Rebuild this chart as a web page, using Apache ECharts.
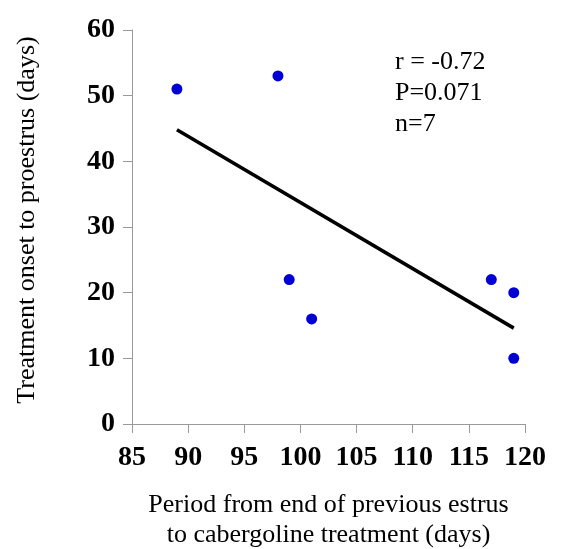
<!DOCTYPE html>
<html>
<head>
    <meta charset="utf-8">
    <title>Treatment onset vs period</title>
    <script src="https://cdn.jsdelivr.net/npm/echarts@6/dist/echarts.min.js"></script>
</head>
<body style="margin:0">
<div id="main" style="width: 565px;height:549px;"></div>
<script type="text/javascript">
    // data
    var periodDays = [89, 98, 99, 101, 117, 119, 119];
    var onsetDays = [51, 53, 22, 16, 22, 20, 10];
    // fitted line, end points
    var fitX = [89, 119];
    var fitY = [44.8, 14.6];
    var statsText = ['r = -0.72', 'P=0.071', 'n=7'];

    var serif = "'Liberation Serif', 'Times New Roman', serif";

    var points = periodDays.map(function (x, i) { return [x, onsetDays[i]]; });
    var fit = fitX.map(function (x, i) { return [x, fitY[i]]; });

    var chart = echarts.init(document.getElementById('main'));
    var option = {
        animation: false,
        grid: { left: 132, top: 30, right: 40, bottom: 125, outerBoundsMode: 'none' },
        xAxis: {
            type: 'value',
            min: 85, max: 120, interval: 5,
            name: 'Period from end of previous estrus\nto cabergoline treatment (days)',
            nameLocation: 'middle',
            nameGap: 66,
            nameTextStyle: { fontFamily: serif, fontSize: 26, lineHeight: 30, color: '#000' },
            axisLine: { lineStyle: { color: '#999', width: 1 } },
            axisTick: { length: 9, lineStyle: { color: '#999' } },
            axisLabel: { margin: 20, fontFamily: serif, fontSize: 28, fontWeight: 'bold', color: '#000' },
            splitLine: { show: false }
        },
        yAxis: {
            type: 'value',
            min: 0, max: 60, interval: 10,
            name: 'Treatment onset to proestrus (days)',
            nameLocation: 'middle',
            nameGap: 92,
            nameTextStyle: { fontFamily: serif, fontSize: 26, color: '#000', padding: [0, 0, 0, 14] },
            axisLine: { show: true, lineStyle: { color: '#999', width: 1 } },
            axisTick: { show: true, length: 9, lineStyle: { color: '#999' } },
            axisLabel: { margin: 17, fontFamily: serif, fontSize: 28, fontWeight: 'bold', color: '#000' },
            splitLine: { show: false }
        },
        graphic: [{
            type: 'text',
            left: 395,
            top: 47,
            style: {
                text: statsText.join('\n'),
                font: '26px ' + serif,
                lineHeight: 31,
                fill: '#000'
            }
        }],
        series: [
            {
                type: 'line',
                data: fit,
                showSymbol: false,
                lineStyle: { color: '#000', width: 3.5 },
                z: 2
            },
            {
                type: 'scatter',
                data: points,
                symbolSize: 11,
                itemStyle: { color: '#0000d4', opacity: 1 },
                z: 3
            }
        ]
    };
    chart.setOption(option);
</script>
</body>
</html>
